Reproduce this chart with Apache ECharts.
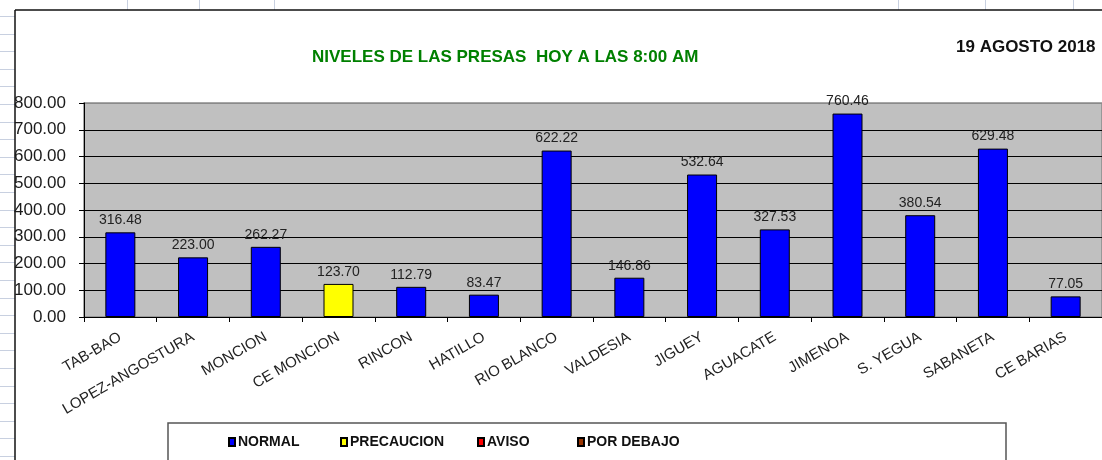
<!DOCTYPE html>
<html>
<head>
<meta charset="utf-8">
<script src="https://cdn.jsdelivr.net/npm/echarts@6/dist/echarts.min.js"></script>
<style>
  html, body { margin: 0; padding: 0; background: #fff; }
  #chart { width: 1102px; height: 460px; }
</style>
</head>
<body>
<div id="chart"></div>
<script>
// Dam names, water levels (m) and status of each dam
const presas = ['TAB-BAO', 'LOPEZ-ANGOSTURA', 'MONCION', 'CE MONCION', 'RINCON', 'HATILLO',
  'RIO BLANCO', 'VALDESIA', 'JIGUEY', 'AGUACATE', 'JIMENOA', 'S. YEGUA', 'SABANETA', 'CE BARIAS'];
const niveles = [316.48, 223.00, 262.27, 123.70, 112.79, 83.47, 622.22, 146.86, 532.64, 327.53, 760.46, 380.54, 629.48, 77.05];
const estados = ['NORMAL', 'NORMAL', 'NORMAL', 'PRECAUCION', 'NORMAL', 'NORMAL', 'NORMAL', 'NORMAL',
  'NORMAL', 'NORMAL', 'NORMAL', 'NORMAL', 'NORMAL', 'NORMAL'];
const categoriasEstado = ['NORMAL', 'PRECAUCION', 'AVISO', 'POR DEBAJO'];
const coloresEstado = ['#0000FF', '#FFFF00', '#FF0000', '#993300'];
const ticksY = [0, 800, 100];
const titulo = 'NIVELES DE LAS PRESAS  HOY A LAS 8:00 AM';
const fecha = '19 AGOSTO 2018';

const FONT = '"Liberation Sans", Arial, sans-serif';
const chart = echarts.init(document.getElementById('chart'), null, { renderer: 'canvas' });

const series = categoriasEstado.map((estado, k) => ({
  name: estado,
  type: 'bar',
  stack: 'nivel',
  barWidth: 30,
  data: niveles.map((v, i) => (estados[i] === estado ? v : null)),
  itemStyle: { color: coloresEstado[k], borderColor: '#000', borderWidth: 1 },
  label: {
    show: true, position: 'top', distance: 5,
    fontFamily: FONT, fontSize: 14, color: '#222',
    formatter: p => p.value == null ? '' : Number(p.value).toFixed(2)
  },
  emphasis: { disabled: true }
}));

// Legend entries placed individually along the legend box
const legendX = [228, 340, 477, 577];
const legends = categoriasEstado.map((estado, k) => ({
  data: [estado],
  left: legendX[k], top: 435, padding: 0,
  icon: 'rect', itemWidth: 6, itemHeight: 8, itemGap: 0,
  textStyle: { fontFamily: FONT, fontWeight: 'bold', fontSize: 14, color: '#111', padding: [0, 0, 0, -2] },
  selectedMode: false
}));

// Worksheet grid around the chart object
const sheetLines = [];
for (let y = 16; y < 460; y += 17.6) {
  sheetLines.push({ type: 'line', shape: { x1: 0, y1: Math.round(y) + 0.5, x2: 15, y2: Math.round(y) + 0.5 }, style: { stroke: '#c8d0e0', lineWidth: 1 } });
}
[127, 199, 274, 898, 985, 1073].forEach(x => {
  sheetLines.push({ type: 'line', shape: { x1: x + 0.5, y1: 0, x2: x + 0.5, y2: 10 }, style: { stroke: '#c8d0e0', lineWidth: 1 } });
});

// gridline colours from 0 up to the top edge of the plot
const gridColors = ['#000', '#000', '#000', '#000', '#000', '#000', '#000', '#000', '#8a8a8a'];

chart.setOption({
  animation: false,
  backgroundColor: '#fff',
  title: [
    { text: titulo, left: 307, top: 44, textStyle: { fontFamily: FONT, fontSize: 17, fontWeight: 'bold', color: '#008000' } },
    { text: fecha, left: 951, top: 34, textStyle: { fontFamily: FONT, fontSize: 17, fontWeight: 'bold', color: '#111' } }
  ],
  legend: legends,
  grid: {
    left: 84, right: -6, top: 103, bottom: 143,
    show: true, backgroundColor: '#C0C0C0', borderColor: '#8a8a8a', borderWidth: 1.5
  },
  xAxis: {
    type: 'category',
    data: presas,
    axisLine: { lineStyle: { color: '#000', width: 1 } },
    axisTick: { show: true, length: 5, lineStyle: { color: '#000' } },
    axisLabel: { interval: 0, rotate: 30, margin: 19, fontFamily: FONT, fontSize: 15, color: '#222' }
  },
  yAxis: {
    type: 'value',
    min: ticksY[0], max: ticksY[1], interval: ticksY[2],
    axisLine: { show: true, lineStyle: { color: '#000', width: 1 } },
    axisTick: { show: true, length: 5, lineStyle: { color: '#000' } },
    axisLabel: { margin: 18, fontFamily: FONT, fontSize: 17, color: '#1a1a1a', formatter: v => v.toFixed(2) },
    splitLine: { show: true, lineStyle: { color: gridColors, width: 1 } }
  },
  series: series,
  graphic: sheetLines.concat([
    // chart object border
    { type: 'line', shape: { x1: 15, y1: 10, x2: 1102, y2: 10 }, style: { stroke: '#111', lineWidth: 1.5 } },
    { type: 'line', shape: { x1: 15, y1: 10, x2: 15, y2: 460 }, style: { stroke: '#111', lineWidth: 1.5 } },
    // legend frame
    { type: 'rect', shape: { x: 168, y: 423, width: 838, height: 60 }, style: { fill: 'none', stroke: '#555', lineWidth: 1.5 }, z: -1 }
  ])
});
</script>
</body>
</html>
